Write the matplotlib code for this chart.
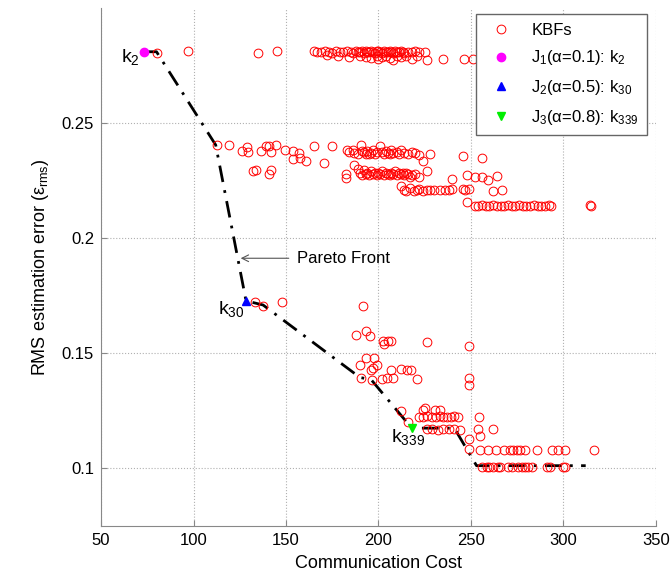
import matplotlib
matplotlib.use('Agg')
import matplotlib.pyplot as plt
import numpy as np

plt.rcParams['font.family'] = ['Liberation Sans', 'DejaVu Sans']
plt.rcParams['mathtext.default'] = 'regular'
plt.rcParams['font.size'] = 12

# KBF points (communication cost, rms error)
top_x = [80, 97, 135, 145, 165, 167, 169, 171, 173, 175, 177, 179, 181, 183, 185, 186, 188, 189,
         190, 191, 192, 193, 194, 195, 196, 197, 198, 199, 200, 201, 202, 203, 204, 205, 206, 207,
         208, 209, 210, 211, 212, 213, 214, 216, 218, 220, 222, 225, 235, 246, 251,
         172, 178, 184, 190, 193, 196, 199, 200, 202, 204, 206, 208, 210, 212, 215, 218, 221, 226]
top_y = [0.2805, 0.2815, 0.2805, 0.2812, 0.2812, 0.281, 0.2808, 0.2812, 0.281, 0.2805, 0.2812, 0.281,
         0.2808, 0.2812, 0.281, 0.2805, 0.2812, 0.2808, 0.281, 0.2815, 0.2805, 0.2812, 0.281, 0.2808,
         0.2815, 0.281, 0.2805, 0.2812, 0.2815, 0.281, 0.2805, 0.2812, 0.281, 0.2808, 0.2815, 0.281,
         0.2805, 0.2812, 0.281, 0.2808, 0.2812, 0.281, 0.2805, 0.281, 0.2808, 0.2812, 0.281, 0.2808,
         0.278, 0.278, 0.278,
         0.2795, 0.2792, 0.2788, 0.279, 0.2785, 0.2782, 0.279, 0.2778, 0.2785, 0.279, 0.2782, 0.2775,
         0.279, 0.2785, 0.2792, 0.278, 0.279, 0.2775]

mid_x = [112.7, 119, 126, 129, 129.5, 136.5, 139, 141, 142, 144.6, 149.5, 154, 157, 165, 175, 183,
         184, 186, 187, 189, 190.5, 191, 192, 193, 194, 195, 196, 197, 198, 199, 201, 202, 203, 204,
         205, 206, 207, 208, 210, 211, 212, 214, 216, 218, 220, 222, 224, 228, 245.7, 256,
         153.8, 157.6, 161, 170.5,
         132, 134, 141, 142, 182.4, 182.4, 187, 189, 190, 191, 192, 193, 194, 195, 196, 197, 198,
         199, 200, 201, 202, 203, 204, 205, 206, 207, 208, 209, 210, 211, 212, 213, 214, 215, 216,
         217, 218, 220, 222, 226, 240, 248, 252, 256, 259, 264,
         212, 214, 215, 217, 219, 221, 222, 224, 226, 228, 230, 233, 236, 238, 240, 245.5, 247, 249,
         262, 267, 248,
         252, 254, 256, 258, 260, 262, 264, 266, 268, 270, 272, 274, 276, 278, 280, 282, 284, 286,
         288, 290, 292, 293, 314.5, 315]
mid_y = [0.2405, 0.2405, 0.238, 0.2396, 0.2374, 0.238, 0.240, 0.240, 0.2374, 0.2405, 0.2383, 0.238,
         0.2372, 0.240, 0.240, 0.2385, 0.2375, 0.2385, 0.237, 0.2365, 0.2405, 0.238, 0.2375, 0.2365,
         0.238, 0.2365, 0.237, 0.2385, 0.2365, 0.2375, 0.240, 0.2375, 0.2365, 0.238, 0.2372, 0.2365,
         0.2385, 0.237, 0.2375, 0.2365, 0.2385, 0.237, 0.2365, 0.2375, 0.237, 0.236, 0.2335, 0.2365,
         0.2357, 0.235,
         0.2344, 0.2348, 0.2335, 0.2326,
         0.229, 0.2296, 0.228, 0.2296, 0.228, 0.2262, 0.232, 0.230, 0.2285, 0.2275, 0.2295, 0.228,
         0.2285, 0.2275, 0.229, 0.228, 0.2285, 0.2275, 0.2285, 0.228, 0.229, 0.2275, 0.2285, 0.228,
         0.2275, 0.2285, 0.228, 0.229, 0.2275, 0.2285, 0.228, 0.2285, 0.2275, 0.2285, 0.228, 0.2265,
         0.2275, 0.228, 0.2265, 0.229, 0.2257, 0.2275, 0.2265, 0.2266, 0.2253, 0.227,
         0.2225, 0.221, 0.2205, 0.222, 0.2205, 0.221, 0.2215, 0.2205, 0.221, 0.221, 0.221, 0.221,
         0.221, 0.221, 0.2212, 0.2212, 0.221, 0.2212, 0.2205, 0.221, 0.2158,
         0.214, 0.2138, 0.2143, 0.214, 0.2138, 0.2143, 0.214, 0.2138, 0.214, 0.2143, 0.2138, 0.214,
         0.2143, 0.2138, 0.214, 0.2138, 0.2143, 0.214, 0.2138, 0.214, 0.2143, 0.214, 0.2145, 0.2138]

low_x = [133, 137.6, 148, 191.6,
         188, 193, 195.4, 202.4, 203, 205, 207, 226, 249,
         190, 193, 197.6, 199, 196, 197, 207, 212, 215.4, 217.6,
         190.5, 196.5, 202, 204.6, 208, 221, 249, 249,
         212, 216, 224, 225, 230.5, 233,
         222, 224, 226, 229, 231, 233, 235, 237, 239, 241, 243, 254.5,
         226, 229, 232, 235, 238, 241, 244, 254, 262, 255, 249, 249,
         255, 259, 263.5, 268, 271, 272.7, 275, 276.5, 279, 285.7, 294, 297, 300.8, 316.5,
         256, 258.6, 260, 262, 264.6, 265.7, 270, 272, 275.4, 277.6, 279, 280.8, 283, 291, 292.7,
         299.7, 301]
low_y = [0.1724, 0.1707, 0.1724, 0.1707,
         0.158, 0.1598, 0.1577, 0.1555, 0.154, 0.1555, 0.1555, 0.155, 0.153,
         0.145, 0.148, 0.148, 0.145, 0.1429, 0.1437, 0.1429, 0.143, 0.1426, 0.1426,
         0.1395, 0.1386, 0.139, 0.1395, 0.1395, 0.139, 0.1395, 0.1364,
         0.125, 0.120, 0.1256, 0.1262, 0.1256, 0.1252,
         0.1225, 0.1222, 0.1228, 0.1225, 0.1222, 0.1228, 0.1225, 0.1222, 0.1225, 0.1228, 0.1225,
         0.1225,
         0.117, 0.1172, 0.1168, 0.117, 0.1172, 0.117, 0.1168, 0.117, 0.117, 0.1143, 0.1126, 0.1083,
         0.1078, 0.1078, 0.1078, 0.1078, 0.1078, 0.1078, 0.1078, 0.1078, 0.1078, 0.1078, 0.1078,
         0.1078, 0.1078, 0.1078,
         0.1005, 0.1005, 0.1005, 0.1005, 0.1005, 0.1005, 0.1005, 0.1005, 0.1005, 0.1005, 0.1005,
         0.1005, 0.1005, 0.1005, 0.1005, 0.1005, 0.1005]

kbf_x = top_x + mid_x + low_x
kbf_y = top_y + mid_y + low_y

# Pareto front
pareto_x = [73, 80, 112, 128.4, 137.6, 190, 196, 218, 241, 253, 312]
pareto_y = [0.281, 0.281, 0.2405, 0.1728, 0.171, 0.1395, 0.1386, 0.1175, 0.1175, 0.1012, 0.1012]

# chosen solutions
j1 = (73, 0.281)
j2 = (128.4, 0.1728)
j3 = (218, 0.1175)

fig = plt.figure(figsize=(6.7, 5.76), dpi=100)
ax = fig.add_axes([101 / 670, 50 / 576, 555 / 670, 518 / 576])

ax.plot(pareto_x, pareto_y, color='black', lw=2, ls=(0, (6, 3, 1, 3)), zorder=2)
ax.plot(kbf_x, kbf_y, 'o', mfc='none', mec='red', ms=6.3, mew=0.7, label='KBFs', zorder=3)
ax.plot(*j1, 'o', color='magenta', ms=6, label='J$_1$(α=0.1): k$_2$', zorder=4)
ax.plot(*j2, '^', color='blue', ms=6, label='J$_2$(α=0.5): k$_{30}$', zorder=4)
ax.plot(*j3, 'v', color='#00ee00', ms=6, label='J$_3$(α=0.8): k$_{339}$', zorder=4)

ax.text(61, 0.2788, 'k$_2$', fontsize=14, ha='left', va='center')
ax.text(113, 0.1692, 'k$_{30}$', fontsize=14, ha='left', va='center')
ax.text(207, 0.1135, 'k$_{339}$', fontsize=14, ha='left', va='center')
ax.annotate('Pareto Front', xy=(125.5, 0.1913), xytext=(156, 0.1913), fontsize=12,
            va='center', arrowprops=dict(arrowstyle='->', color='#555555', lw=0.8,
                                         shrinkA=4, shrinkB=0))

ax.set_xlim(50, 350)
ax.set_ylim(0.075, 0.30)
ax.set_xticks([50, 100, 150, 200, 250, 300, 350])
ax.set_yticks([0.1, 0.15, 0.2, 0.25])
ax.set_yticklabels(['0.1', '0.15', '0.2', '0.25'])
ax.grid(True, ls=':', color='#b0b0b0', lw=0.8)
for s in ['top', 'right']:
    ax.spines[s].set_visible(False)
for s in ['left', 'bottom']:
    ax.spines[s].set_color('#888888')
ax.tick_params(direction='in', length=4, color='#888888', labelsize=12, pad=5)
ax.set_xlabel('Communication Cost', fontsize=13, labelpad=5)
ax.set_ylabel('RMS estimation error (ε$_{rms}$)', fontsize=13, labelpad=8)

leg = ax.legend(loc='upper right', bbox_to_anchor=(0.984, 0.988), borderaxespad=0,
                fontsize=12, fancybox=False, edgecolor='#666666', framealpha=1,
                borderpad=0.5, handletextpad=0.8, labelspacing=0.65)
leg.get_frame().set_linewidth(1)

fig.savefig('out.png', dpi=100)
